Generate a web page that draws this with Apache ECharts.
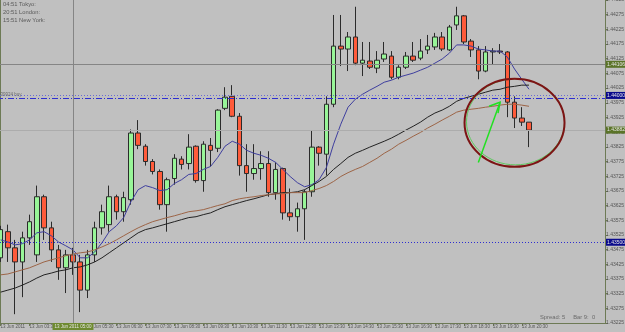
<!DOCTYPE html>
<html>
<head>
<meta charset="utf-8">
<title>EURUSD M15</title>
<script src="https://cdn.jsdelivr.net/npm/echarts@6/dist/echarts.min.js"></script>
<style>
  html, body { margin: 0; padding: 0; background: #c0c0c0; }
  #main { width: 625px; height: 332px; }
</style>
</head>
<body>
<div id="main"></div>
<script>
// 13 Jun 2011, 15 minute bars from 02:30, empty slots to the right
var slotCount = 84;
var firstMinute = 150;

var tickLabels = ['13 Jun 2011', '13 Jun 03:30', '13 Jun 04:30', '13 Jun 05:30', '13 Jun 06:30',
  '13 Jun 07:30', '13 Jun 08:30', '13 Jun 09:30', '13 Jun 10:30', '13 Jun 11:30', '13 Jun 12:30',
  '13 Jun 13:30', '13 Jun 14:30', '13 Jun 15:30', '13 Jun 16:30', '13 Jun 17:30', '13 Jun 18:30',
  '13 Jun 19:30', '13 Jun 20:30'];

var openP = [1.43447,1.43536,1.43481,1.43433,1.43515,1.43457,1.43655,1.43549,1.43474,1.43413,
  1.43457,1.43433,1.43337,1.43457,1.43549,1.43560,1.43655,1.43604,1.43645,1.43872,
  1.43827,1.43775,1.43741,1.43628,1.43717,1.43783,1.43768,1.43827,1.43710,1.43830,
  1.43820,1.43956,1.43997,1.43929,1.43761,1.43734,1.43751,1.43768,1.43669,1.43751,
  1.43600,1.43587,1.43614,1.43672,1.43824,1.43800,1.43970,1.44168,1.44158,1.44199,
  1.44110,1.44117,1.44093,1.44124,1.44134,1.44062,1.44096,1.44134,1.44127,1.44155,
  1.44165,1.44199,1.44155,1.44240,1.44271,1.44185,1.44155,1.44083,1.44148,1.44151,
  1.44148,1.43977,1.43923,1.43909];
var closeP = [1.43543,1.43481,1.43433,1.43515,1.43570,1.43655,1.43549,1.43474,1.43413,1.43457,
  1.43433,1.43337,1.43457,1.43549,1.43604,1.43655,1.43604,1.43652,1.43872,1.43830,
  1.43775,1.43741,1.43628,1.43713,1.43786,1.43765,1.43824,1.43710,1.43834,1.43813,
  1.43950,1.43994,1.43929,1.43761,1.43734,1.43751,1.43768,1.43669,1.43748,1.43600,
  1.43587,1.43614,1.43672,1.43824,1.43803,1.43970,1.44168,1.44158,1.44199,1.44110,
  1.44120,1.44096,1.44120,1.44141,1.44062,1.44096,1.44134,1.44120,1.44151,1.44168,
  1.44199,1.44158,1.44233,1.44271,1.44182,1.44155,1.44083,1.44148,1.44151,1.44148,
  1.43977,1.43923,1.43909,1.43882];
var highP = [1.43556,1.43560,1.43508,1.43536,1.43594,1.43693,1.43662,1.43570,1.43491,1.43474,
  1.43481,1.43457,1.43474,1.43570,1.43628,1.43693,1.43662,1.43672,1.43884,1.43916,
  1.43834,1.43783,1.43748,1.43720,1.43800,1.43793,1.43868,1.43830,1.43844,1.43855,
  1.43953,1.44028,1.44035,1.43940,1.43834,1.43834,1.43810,1.43810,1.43772,1.43754,
  1.43683,1.43635,1.43679,1.43879,1.43827,1.43997,1.44274,1.44274,1.44216,1.44302,
  1.44182,1.44182,1.44151,1.44182,1.44151,1.44103,1.44148,1.44182,1.44192,1.44206,
  1.44213,1.44216,1.44240,1.44302,1.44274,1.44192,1.44168,1.44168,1.44161,1.44175,
  1.44151,1.43997,1.43960,1.43909];
var lowP = [1.43433,1.43433,1.43255,1.43313,1.43491,1.43433,1.43508,1.43433,1.43372,1.43327,
  1.43389,1.43262,1.43310,1.43433,1.43526,1.43536,1.43577,1.43570,1.43628,1.43817,
  1.43761,1.43731,1.43611,1.43536,1.43696,1.43748,1.43748,1.43703,1.43672,1.43758,
  1.43807,1.43950,1.43926,1.43727,1.43672,1.43713,1.43713,1.43655,1.43645,1.43577,
  1.43573,1.43536,1.43508,1.43655,1.43761,1.43727,1.43960,1.44100,1.44083,1.44103,
  1.44066,1.44090,1.44076,1.44114,1.44055,1.44055,1.44090,1.44114,1.44120,1.44141,
  1.44155,1.44151,1.44151,1.44223,1.44175,1.44131,1.44055,1.44079,1.44107,1.44141,
  1.43926,1.43889,1.43896,1.43824];

// moving averages
var maBlue = [1.43508,1.43501,1.43491,1.43495,1.43508,1.43532,1.43536,1.43522,1.43501,1.43488,
  1.43474,1.43447,1.43447,1.43467,1.43498,1.43536,1.43556,1.43584,1.43638,1.43679,
  1.43693,1.43686,1.43676,1.43679,1.43700,1.43713,1.43731,1.43734,1.43748,1.43758,
  1.43789,1.43827,1.43844,1.43834,1.43813,1.43803,1.43796,1.43786,1.43772,1.43748,
  1.43724,1.43703,1.43689,1.43696,1.43713,1.43754,1.43834,1.43902,1.43960,1.43987,
  1.44004,1.44018,1.44031,1.44045,1.44052,1.44062,1.44069,1.44076,1.44086,1.44096,
  1.44110,1.44124,1.44144,1.44172,1.44172,1.44168,1.44158,1.44155,1.44151,1.44151,
  1.44131,1.44090,1.44055,1.44021];
var maBlack = [1.43330,1.43337,1.43344,1.43354,1.43365,1.43378,1.43389,1.43395,1.43402,1.43406,
  1.43413,1.43416,1.43423,1.43433,1.43447,1.43464,1.43481,1.43498,1.43515,1.43532,
  1.43543,1.43549,1.43556,1.43563,1.43570,1.43577,1.43584,1.43587,1.43594,1.43600,
  1.43611,1.43621,1.43628,1.43635,1.43642,1.43648,1.43655,1.43662,1.43665,1.43669,
  1.43669,1.43672,1.43679,1.43693,1.43707,1.43724,1.43748,1.43768,1.43789,1.43803,
  1.43813,1.43824,1.43834,1.43844,1.43855,1.43868,1.43882,1.43895,1.43909,1.43926,
  1.43940,1.43950,1.43963,1.43980,1.43990,1.43997,1.44004,1.44011,1.44018,1.44021,
  1.44028,1.44031,1.44035,1.44035];
var maBrown = [1.43389,1.43392,1.43399,1.43406,1.43413,1.43423,1.43433,1.43440,1.43447,1.43454,
  1.43460,1.43464,1.43467,1.43474,1.43484,1.43495,1.43508,1.43522,1.43536,1.43549,
  1.43560,1.43570,1.43577,1.43584,1.43590,1.43597,1.43604,1.43607,1.43611,1.43618,
  1.43625,1.43631,1.43642,1.43648,1.43652,1.43655,1.43659,1.43662,1.43665,1.43665,
  1.43669,1.43669,1.43669,1.43676,1.43683,1.43693,1.43707,1.43724,1.43737,1.43748,
  1.43758,1.43772,1.43786,1.43803,1.43817,1.43834,1.43847,1.43861,1.43874,1.43889,
  1.43902,1.43916,1.43929,1.43943,1.43950,1.43953,1.43956,1.43960,1.43963,1.43967,
  1.43970,1.43970,1.43967,1.43963];

// horizontal levels
var levelBuy = 1.44000;
var levelOrder = 1.43990;
var levelLow = 1.43500;
var crossPrice = 1.44106;
var crossBar = 10;
var bidPrice = closeP[closeP.length - 1];

var categories = [];
for (var i = 0; i < slotCount; i++) {
  var m = firstMinute + i * 15;
  var hh = Math.floor(m / 60), mm = m % 60;
  categories.push((hh < 10 ? '0' : '') + hh + ':' + (mm < 10 ? '0' : '') + mm);
}
var candles = [];
for (var j = 0; j < openP.length; j++) {
  candles.push([openP[j], closeP[j], lowP[j], highP[j]]);
}

var axisColor = '#6d7a55';
var txtColor = '#555555';
var fontName = 'Liberation Sans';

function boxLabel(bg, txt) {
  return {
    show: true, position: 'end', formatter: txt, backgroundColor: bg, color: '#e6e6e6',
    fontSize: 5, fontFamily: fontName, padding: [1, 1], distance: 1
  };
}

var chart = echarts.init(document.getElementById('main'));
var option = {
  backgroundColor: '#c0c0c0',
  animation: false,
  grid: { left: -3, right: 20, top: 0, bottom: 9, outerBoundsMode: 'none', containLabel: false },
  xAxis: {
    type: 'category',
    data: categories,
    boundaryGap: true,
    axisLine: { lineStyle: { color: axisColor, width: 1 } },
    axisTick: {
      show: true, alignWithLabel: true, length: 3,
      interval: function (idx) { return idx % 4 === 0 && idx / 4 < tickLabels.length; },
      lineStyle: { color: axisColor }
    },
    axisLabel: {
      interval: function (idx) { return idx % 4 === 0 && idx / 4 < tickLabels.length; },
      formatter: function (v, idx) { return tickLabels[idx / 4]; },
      align: 'left', margin: 1, fontSize: 4.5, color: txtColor, fontFamily: fontName
    },
    splitLine: { show: false }
  },
  yAxis: {
    type: 'value',
    position: 'right',
    min: 1.43225,
    max: 1.44325,
    interval: 0.0005,
    axisLine: { show: true, lineStyle: { color: axisColor } },
    axisTick: { show: true, length: 3, lineStyle: { color: axisColor } },
    axisLabel: {
      margin: 1, fontSize: 5, color: txtColor, fontFamily: fontName,
      formatter: function (v) { return v.toFixed(5); }
    },
    splitLine: { show: false }
  },
  series: [
    {
      type: 'candlestick',
      data: candles,
      barWidth: 5,
      itemStyle: {
        color: '#98f598', color0: '#ff5b3a',
        borderColor: '#2b2b2b', borderColor0: '#2b2b2b', borderWidth: 1
      }
    },
    {
      type: 'line', data: maBlue, showSymbol: false, silent: true, z: 3,
      lineStyle: { color: '#3e3e9e', width: 1 },
      markLine: {
        symbol: 'none',
        silent: true,
        animation: false,
        precision: 5,
        data: [
          { yAxis: levelBuy, lineStyle: { color: '#6a6ad6', type: [1, 2], width: 1 },
            label: boxLabel('#0a0a8c', levelBuy.toFixed(5)) },
          { yAxis: levelOrder, lineStyle: { color: '#2e2ed0', type: [6, 2, 1, 2], width: 1 },
            label: { show: true, position: 'insideStartTop', formatter: '#39924 buy', fontSize: 4.5,
              color: '#6a6a6a', fontFamily: fontName, distance: 1 } },
          { yAxis: levelLow, lineStyle: { color: '#2e2ed0', type: [1, 2], width: 1 },
            label: boxLabel('#0a0a8c', levelLow.toFixed(5)) },
          { yAxis: crossPrice, lineStyle: { color: '#858585', type: 'solid', width: 1 },
            label: boxLabel('#5b7428', crossPrice.toFixed(5)) },
          { yAxis: bidPrice, lineStyle: { color: '#acacac', type: 'solid', width: 1 },
            label: boxLabel('#5b7428', bidPrice.toFixed(5)) },
          { xAxis: crossBar, lineStyle: { color: '#858585', type: 'solid', width: 1 },
            label: { show: true, position: 'start', formatter: '13 Jun 2011 ' + categories[crossBar],
              backgroundColor: '#6e8a30', color: '#e6e6e6', fontSize: 4.5, fontFamily: fontName,
              padding: [1, 2], distance: 0 } }
        ]
      }
    },
    { type: 'line', data: maBlack, showSymbol: false, silent: true, z: 3,
      lineStyle: { color: '#222222', width: 1 } },
    { type: 'line', data: maBrown, showSymbol: false, silent: true, z: 3,
      lineStyle: { color: '#9c6446', width: 1 } }
  ]
};
chart.setOption(option);

// hand drawn marks and info texts
var c = chart.convertToPixel({ seriesIndex: 0 }, [70.8, 1.43910]);
var a0 = chart.convertToPixel({ seriesIndex: 0 }, [66, 1.43772]);
var a1 = chart.convertToPixel({ seriesIndex: 0 }, [69.4, 1.43977]);
chart.setOption({
  graphic: [
    { type: 'line', shape: { x1: 0.5, y1: 0, x2: 0.5, y2: 323 }, style: { stroke: axisColor, lineWidth: 1 } },
    { type: 'text', left: 3, top: 1, style: { text: '04:51 Tokyo:\n20:51 London:\n15:51 New York:',
      fill: '#5a5a5a', font: '5.8px "Liberation Sans"', lineHeight: 7.6 } },
    { type: 'text', left: 540, top: 314, style: { text: 'Spread: 5     Bar 9:  0',
      fill: '#6a6a6a', font: '5.8px "Liberation Sans"' } },
    { type: 'ellipse', shape: { cx: c[0] + 1, cy: c[1], rx: 49, ry: 43 }, z: 20,
      style: { fill: 'none', stroke: '#5fc95f', lineWidth: 1 } },
    { type: 'ellipse', shape: { cx: c[0], cy: c[1] + 1, rx: 50, ry: 44 }, z: 21,
      style: { fill: 'none', stroke: '#7c1414', lineWidth: 2 } },
    { type: 'polyline', z: 22, shape: { points: [[a0[0], a0[1]], [a1[0], a1[1]]] },
      style: { stroke: '#22e022', lineWidth: 1.5, fill: 'none' } },
    { type: 'polyline', z: 22, shape: { points: [[a1[0] - 11, a1[1] + 4], [a1[0], a1[1]], [a1[0] - 2, a1[1] + 11]] },
      style: { stroke: '#22e022', lineWidth: 1.5, fill: 'none' } }
  ]
});
</script>
</body>
</html>
